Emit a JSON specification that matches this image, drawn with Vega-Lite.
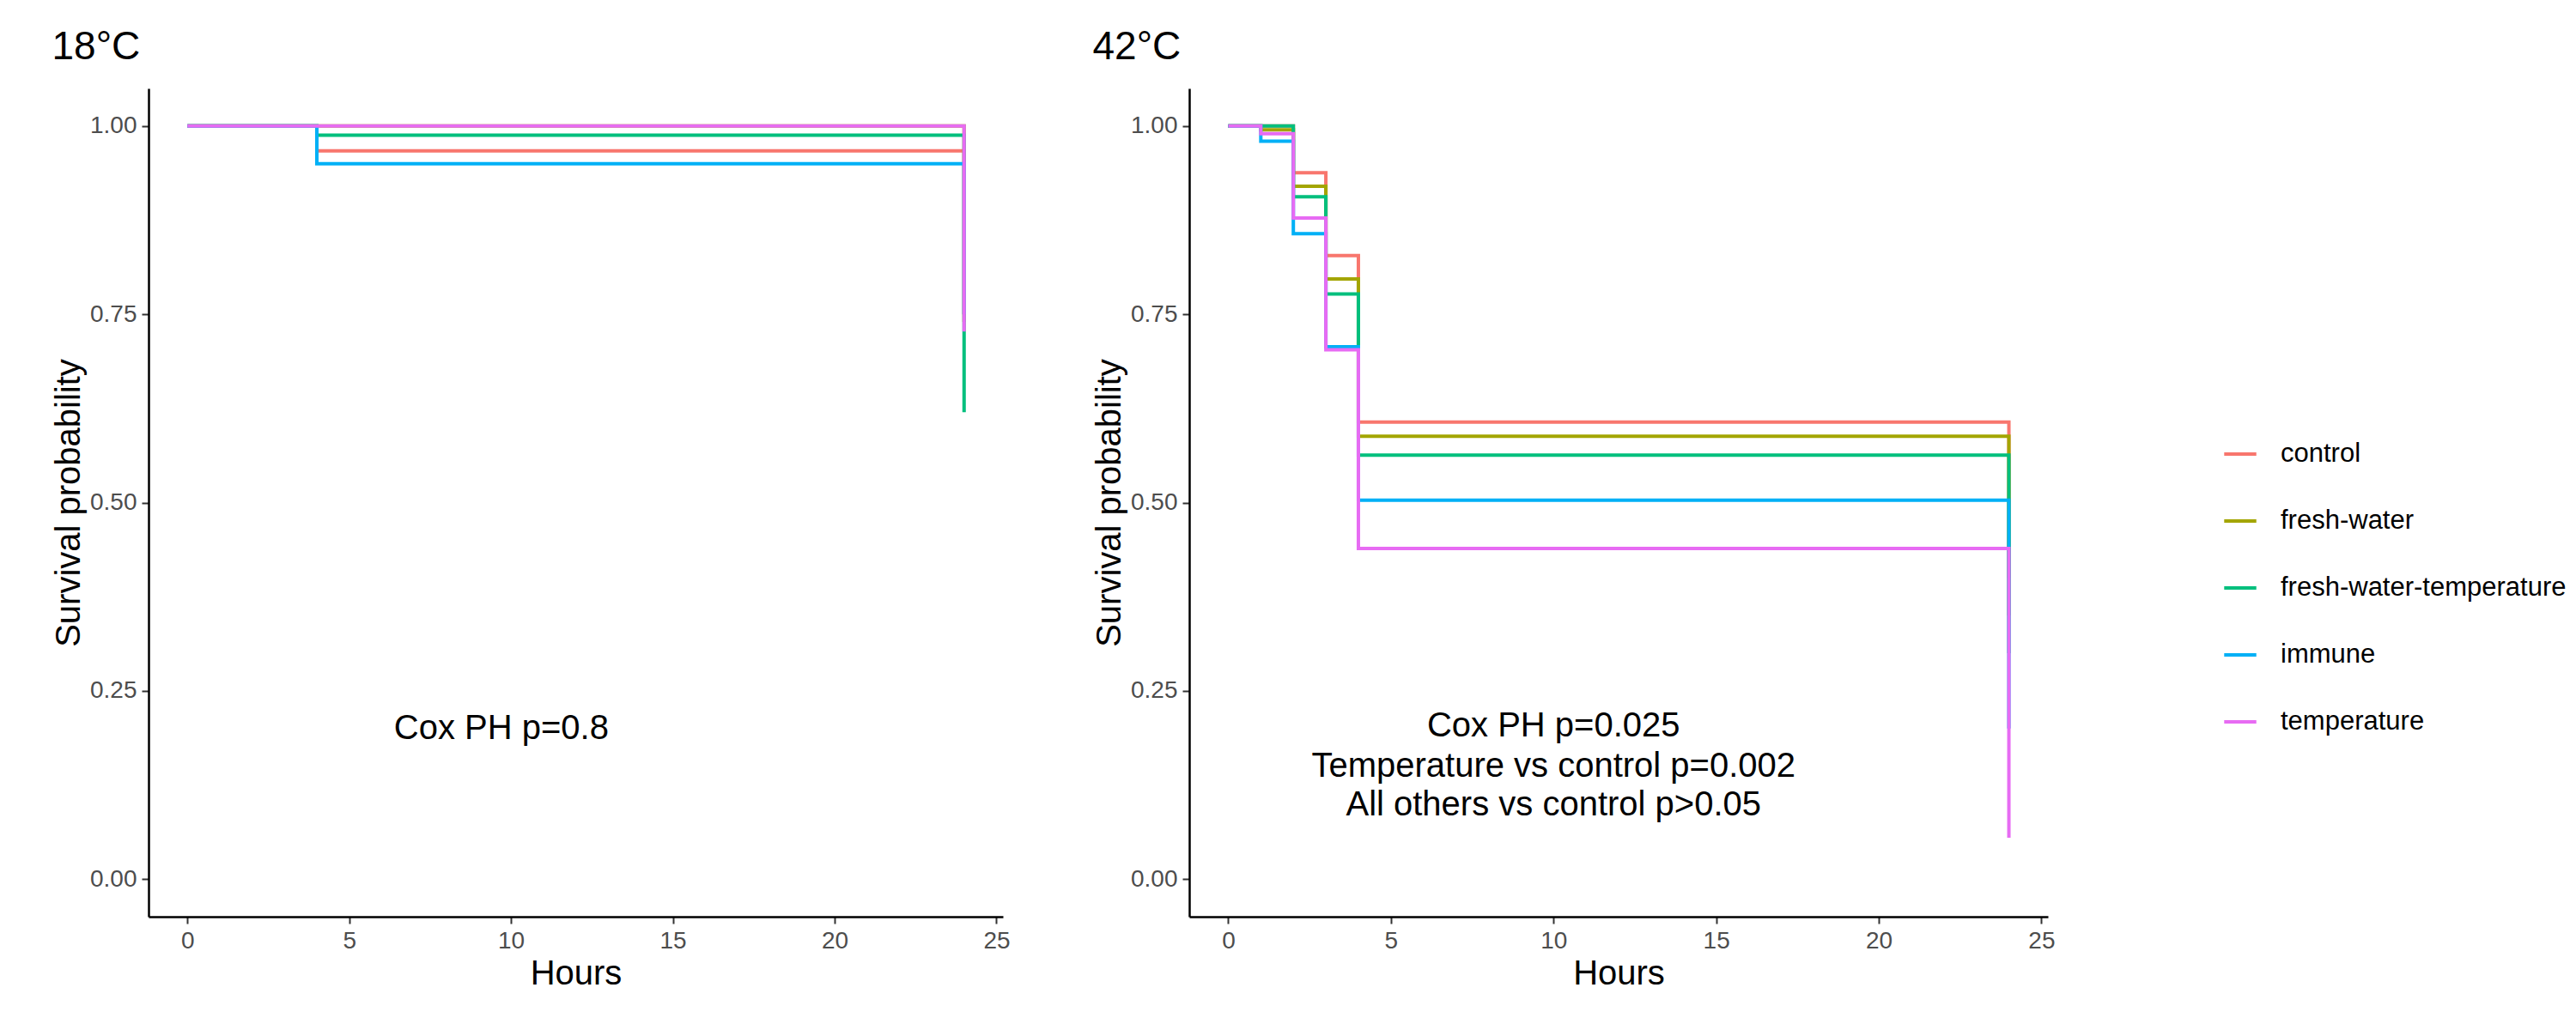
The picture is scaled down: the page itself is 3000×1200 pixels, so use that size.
{
"$schema":"https://vega.github.io/schema/vega-lite/v6.json",
"background":"white",
"padding":{"left":60,"top":32,"right":20,"bottom":10},
"datasets":{
"surv":[
{"panel":"18","group":"control","i":0,"t":0,"s":1},{"panel":"18","group":"control","i":1,"t":4,"s":1},{"panel":"18","group":"control","i":2,"t":4,"s":0.967},{"panel":"18","group":"control","i":3,"t":24,"s":0.967},{"panel":"18","group":"control","i":4,"t":24,"s":0.75},
{"panel":"18","group":"fresh-water","i":0,"t":0,"s":1},{"panel":"18","group":"fresh-water","i":1,"t":24,"s":1},{"panel":"18","group":"fresh-water","i":2,"t":24,"s":0.74},
{"panel":"18","group":"fresh-water-temperature","i":0,"t":0,"s":1},{"panel":"18","group":"fresh-water-temperature","i":1,"t":4,"s":1},{"panel":"18","group":"fresh-water-temperature","i":2,"t":4,"s":0.988},{"panel":"18","group":"fresh-water-temperature","i":3,"t":24,"s":0.988},{"panel":"18","group":"fresh-water-temperature","i":4,"t":24,"s":0.62},
{"panel":"18","group":"immune","i":0,"t":0,"s":1},{"panel":"18","group":"immune","i":1,"t":4,"s":1},{"panel":"18","group":"immune","i":2,"t":4,"s":0.95},{"panel":"18","group":"immune","i":3,"t":24,"s":0.95},{"panel":"18","group":"immune","i":4,"t":24,"s":0.75},
{"panel":"18","group":"temperature","i":0,"t":0,"s":1},{"panel":"18","group":"temperature","i":1,"t":24,"s":1},{"panel":"18","group":"temperature","i":2,"t":24,"s":0.727},
{"panel":"42","group":"control","i":0,"t":0,"s":1},{"panel":"42","group":"control","i":1,"t":2,"s":1},{"panel":"42","group":"control","i":2,"t":2,"s":0.938},{"panel":"42","group":"control","i":3,"t":3,"s":0.938},{"panel":"42","group":"control","i":4,"t":3,"s":0.828},{"panel":"42","group":"control","i":5,"t":4,"s":0.828},{"panel":"42","group":"control","i":6,"t":4,"s":0.607},{"panel":"42","group":"control","i":7,"t":24,"s":0.607},{"panel":"42","group":"control","i":8,"t":24,"s":0.4},
{"panel":"42","group":"fresh-water","i":0,"t":0,"s":1},{"panel":"42","group":"fresh-water","i":1,"t":1,"s":1},{"panel":"42","group":"fresh-water","i":2,"t":1,"s":0.995},{"panel":"42","group":"fresh-water","i":3,"t":2,"s":0.995},{"panel":"42","group":"fresh-water","i":4,"t":2,"s":0.92},{"panel":"42","group":"fresh-water","i":5,"t":3,"s":0.92},{"panel":"42","group":"fresh-water","i":6,"t":3,"s":0.797},{"panel":"42","group":"fresh-water","i":7,"t":4,"s":0.797},{"panel":"42","group":"fresh-water","i":8,"t":4,"s":0.588},{"panel":"42","group":"fresh-water","i":9,"t":24,"s":0.588},{"panel":"42","group":"fresh-water","i":10,"t":24,"s":0.35},
{"panel":"42","group":"fresh-water-temperature","i":0,"t":0,"s":1},{"panel":"42","group":"fresh-water-temperature","i":1,"t":2,"s":1},{"panel":"42","group":"fresh-water-temperature","i":2,"t":2,"s":0.906},{"panel":"42","group":"fresh-water-temperature","i":3,"t":3,"s":0.906},{"panel":"42","group":"fresh-water-temperature","i":4,"t":3,"s":0.777},{"panel":"42","group":"fresh-water-temperature","i":5,"t":4,"s":0.777},{"panel":"42","group":"fresh-water-temperature","i":6,"t":4,"s":0.563},{"panel":"42","group":"fresh-water-temperature","i":7,"t":24,"s":0.563},{"panel":"42","group":"fresh-water-temperature","i":8,"t":24,"s":0.3},
{"panel":"42","group":"immune","i":0,"t":0,"s":1},{"panel":"42","group":"immune","i":1,"t":1,"s":1},{"panel":"42","group":"immune","i":2,"t":1,"s":0.98},{"panel":"42","group":"immune","i":3,"t":2,"s":0.98},{"panel":"42","group":"immune","i":4,"t":2,"s":0.857},{"panel":"42","group":"immune","i":5,"t":3,"s":0.857},{"panel":"42","group":"immune","i":6,"t":3,"s":0.707},{"panel":"42","group":"immune","i":7,"t":4,"s":0.707},{"panel":"42","group":"immune","i":8,"t":4,"s":0.503},{"panel":"42","group":"immune","i":9,"t":24,"s":0.503},{"panel":"42","group":"immune","i":10,"t":24,"s":0.2},
{"panel":"42","group":"temperature","i":0,"t":0,"s":1},{"panel":"42","group":"temperature","i":1,"t":1,"s":1},{"panel":"42","group":"temperature","i":2,"t":1,"s":0.99},{"panel":"42","group":"temperature","i":3,"t":2,"s":0.99},{"panel":"42","group":"temperature","i":4,"t":2,"s":0.878},{"panel":"42","group":"temperature","i":5,"t":3,"s":0.878},{"panel":"42","group":"temperature","i":6,"t":3,"s":0.703},{"panel":"42","group":"temperature","i":7,"t":4,"s":0.703},{"panel":"42","group":"temperature","i":8,"t":4,"s":0.439},{"panel":"42","group":"temperature","i":9,"t":24,"s":0.439},{"panel":"42","group":"temperature","i":10,"t":24,"s":0.055}
],
"notes":[
{"panel":"18","x":9.7,"y":0.2,"label":"Cox PH p=0.8"},
{"panel":"42","x":10,"y":0.203,"label":"Cox PH p=0.025"},
{"panel":"42","x":10,"y":0.15,"label":"Temperature vs control p=0.002"},
{"panel":"42","x":10,"y":0.098,"label":"All others vs control p>0.05"}
]},
"config":{
"font":"Liberation Sans",
"view":{"stroke":null},
"axis":{"grid":false,"domainColor":"black","domainWidth":2.5,"tickColor":"#333","tickWidth":2,"tickSize":8,"labelFontSize":28,"labelColor":"#4d4d4d","titleFontSize":40,"titleFontWeight":"normal","titleColor":"black","labelPadding":6},
"legend":{"orient":"none","legendX":2415,"legendY":405,"labelFontSize":31,"labelLimit":600,"labelOffset":26,"symbolType":"stroke","symbolStrokeWidth":4,"symbolSize":1400,"rowPadding":42,"padding":0},
"title":{"fontSize":46,"fontWeight":"normal","anchor":"start","color":"black","offset":24},
"concat":{"spacing":95}
},
"hconcat":[
{"title":"18°C","width":995,"height":965,
"layer":[
{"data":{"name":"surv"},"transform":[{"filter":"datum.panel=='18'"}],
"mark":{"type":"line","interpolate":"linear","strokeWidth":4},
"encoding":{
"x":{"field":"t","type":"quantitative","title":"Hours","scale":{"domain":[-1.2,25.2],"nice":false,"zero":false},"axis":{"values":[0,5,10,15,20,25]}},
"y":{"field":"s","type":"quantitative","title":"Survival probability","scale":{"domain":[-0.05,1.05],"nice":false},"axis":{"values":[0,0.25,0.5,0.75,1],"format":".2f"}},
"color":{"field":"group","type":"nominal","title":null,"scale":{"domain":["control","fresh-water","fresh-water-temperature","immune","temperature"],"range":["#F8766D","#A3A500","#00BF7D","#00B0F6","#E76BF3"]}},
"order":{"field":"i","type":"quantitative"}}},
{"data":{"name":"notes"},"transform":[{"filter":"datum.panel=='18'"}],
"mark":{"type":"text","fontSize":40,"color":"black"},
"encoding":{"x":{"field":"x","type":"quantitative"},"y":{"field":"y","type":"quantitative"},"text":{"field":"label"}}}
]},
{"title":"42°C","width":1000,"height":965,
"layer":[
{"data":{"name":"surv"},"transform":[{"filter":"datum.panel=='42'"}],
"mark":{"type":"line","interpolate":"linear","strokeWidth":4},
"encoding":{
"x":{"field":"t","type":"quantitative","title":"Hours","scale":{"domain":[-1.2,25.2],"nice":false,"zero":false},"axis":{"values":[0,5,10,15,20,25]}},
"y":{"field":"s","type":"quantitative","title":"Survival probability","scale":{"domain":[-0.05,1.05],"nice":false},"axis":{"values":[0,0.25,0.5,0.75,1],"format":".2f"}},
"color":{"field":"group","type":"nominal","title":null,"scale":{"domain":["control","fresh-water","fresh-water-temperature","immune","temperature"],"range":["#F8766D","#A3A500","#00BF7D","#00B0F6","#E76BF3"]}},
"order":{"field":"i","type":"quantitative"}}},
{"data":{"name":"notes"},"transform":[{"filter":"datum.panel=='42'"}],
"mark":{"type":"text","fontSize":40,"color":"black"},
"encoding":{"x":{"field":"x","type":"quantitative"},"y":{"field":"y","type":"quantitative"},"text":{"field":"label"}}}
]}
]}
